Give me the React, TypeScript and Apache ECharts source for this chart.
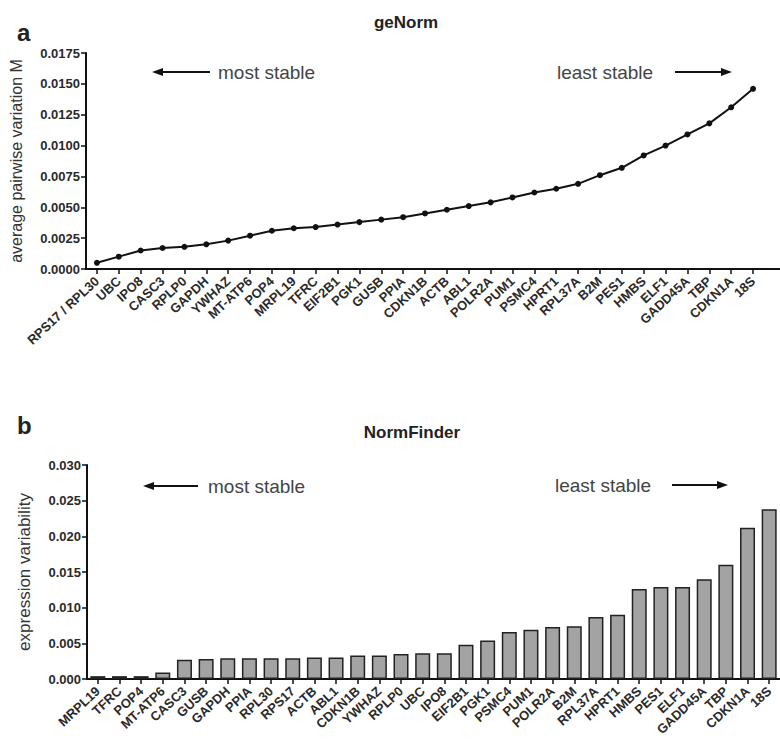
import React, { useEffect, useRef } from "react";
import * as echarts from "echarts";

const genormGenes = ["RPS17 / RPL30", "UBC", "IPO8", "CASC3", "RPLP0", "GAPDH", "YWHAZ", "MT-ATP6", "POP4", "MRPL19", "TFRC", "EIF2B1", "PGK1", "GUSB", "PPIA", "CDKN1B", "ACTB", "ABL1", "POLR2A", "PUM1", "PSMC4", "HPRT1", "RPL37A", "B2M", "PES1", "HMBS", "ELF1", "GADD45A", "TBP", "CDKN1A", "18S"];
const genormM = [0.0005, 0.0010, 0.0015, 0.0017, 0.0018, 0.0020, 0.0023, 0.0027, 0.0031, 0.0033, 0.0034, 0.0036, 0.0038, 0.0040, 0.0042, 0.0045, 0.0048, 0.0051, 0.0054, 0.0058, 0.0062, 0.0065, 0.0069, 0.0076, 0.0082, 0.0092, 0.0100, 0.0109, 0.0118, 0.0131, 0.0146];

const nfGenes = ["MRPL19", "TFRC", "POP4", "MT-ATP6", "CASC3", "GUSB", "GAPDH", "PPIA", "RPL30", "RPS17", "ACTB", "ABL1", "CDKN1B", "YWHAZ", "RPLP0", "UBC", "IPO8", "EIF2B1", "PGK1", "PSMC4", "PUM1", "POLR2A", "B2M", "RPL37A", "HPRT1", "HMBS", "PES1", "ELF1", "GADD45A", "TBP", "CDKN1A", "18S"];
const nfVariability = [0.0004, 0.0004, 0.0004, 0.0009, 0.0027, 0.0028, 0.0029, 0.0029, 0.0029, 0.0029, 0.0030, 0.0030, 0.0033, 0.0033, 0.0035, 0.0036, 0.0036, 0.0048, 0.0054, 0.0066, 0.0069, 0.0073, 0.0074, 0.0087, 0.0090, 0.0126, 0.0129, 0.0129, 0.0140, 0.0160, 0.0212, 0.0238];

const FONT = "'Liberation Sans', Arial, sans-serif";

function arrow(x1: number, x2: number, y: number, headLeft: boolean) {
  const head = 11;
  const hh = 4;
  const lineStart = headLeft ? x1 + head - 1 : x1;
  const lineEnd = headLeft ? x2 : x2 - head + 1;
  return [
    { type: "line", shape: { x1: lineStart, y1: y, x2: lineEnd, y2: y }, style: { stroke: "#111", lineWidth: 2 } },
    {
      type: "polygon",
      shape: {
        points: headLeft
          ? [[x1, y], [x1 + head, y - hh], [x1 + head, y + hh]]
          : [[x2, y], [x2 - head, y - hh], [x2 - head, y + hh]],
      },
      style: { fill: "#111" },
    },
  ];
}

function txt(x: number, y: number, text: string, size: number, bold: boolean, align = "left", color = "#222") {
  return {
    type: "text",
    x,
    y,
    style: { text, fontSize: size, fontWeight: bold ? "bold" : "normal", fontFamily: FONT, fill: color, align, verticalAlign: "middle" },
  };
}

export default function App() {
  const ref = useRef<HTMLDivElement>(null);
  useEffect(() => {
    if (!ref.current) return;
    const chart = echarts.init(ref.current, null, { renderer: "svg" });
    const axisLabelY = { fontSize: 13, fontWeight: "bold", color: "#2a2a2a", fontFamily: FONT, margin: 6 };
    const axisLabelX = { fontSize: 13, fontWeight: "bold", color: "#2a2a2a", fontFamily: FONT, rotate: 43, interval: 0, margin: 10 };
    const axisLine = { show: true, lineStyle: { color: "#111", width: 2 } };
    const axisTick = { show: true, length: 5, lineStyle: { color: "#111", width: 1.5 } };
    chart.setOption({
      animation: false,
      backgroundColor: "#fff",
      grid: [
        { left: 86, top: 53, width: 678, height: 216 },
        { left: 87, top: 465, width: 693, height: 214 },
      ],
      xAxis: [
        {
          type: "category", gridIndex: 0, data: genormGenes, boundaryGap: true,
          axisLine, axisTick: { ...axisTick, alignWithLabel: true }, axisLabel: axisLabelX, splitLine: { show: false },
        },
        {
          type: "category", gridIndex: 1, data: nfGenes, boundaryGap: true,
          axisLine, axisTick: { ...axisTick, alignWithLabel: true }, axisLabel: axisLabelX, splitLine: { show: false },
        },
      ],
      yAxis: [
        {
          type: "value", gridIndex: 0, min: 0, max: 0.0175, interval: 0.0025,
          axisLine, axisTick, splitLine: { show: false },
          axisLabel: { ...axisLabelY, formatter: (v: number) => v.toFixed(4) },
          name: "average pairwise variation M", nameLocation: "middle", nameGap: 62,
          nameTextStyle: { fontSize: 16, color: "#333", fontFamily: FONT },
        },
        {
          type: "value", gridIndex: 1, min: 0, max: 0.03, interval: 0.005,
          axisLine, axisTick, splitLine: { show: false },
          axisLabel: { ...axisLabelY, formatter: (v: number) => v.toFixed(3) },
          name: "expression variability", nameLocation: "middle", nameGap: 54,
          nameTextStyle: { fontSize: 17, color: "#333", fontFamily: FONT },
        },
      ],
      series: [
        {
          type: "line", xAxisIndex: 0, yAxisIndex: 0, data: genormM,
          symbol: "circle", symbolSize: 6,
          lineStyle: { color: "#111", width: 2 }, itemStyle: { color: "#111" },
        },
        {
          type: "bar", xAxisIndex: 1, yAxisIndex: 1, data: nfVariability, barWidth: 15,
          itemStyle: { color: "#a3a3a3", borderColor: "#222", borderWidth: 1.5 },
        },
      ],
      graphic: [
        { type: "line", shape: { x1: 763, y1: 269, x2: 780, y2: 269 }, style: { stroke: "#111", lineWidth: 2 } },
        txt(17, 32, "a", 24, true),
        txt(17, 425, "b", 24, true),
        txt(406, 22, "geNorm", 17, true, "center"),
        txt(412, 432, "NormFinder", 17, true, "center"),
        ...arrow(152, 210, 72, true),
        txt(218, 72, "most stable", 19, false, "left", "#444"),
        txt(557, 72, "least stable", 19, false, "left", "#444"),
        ...arrow(675, 732, 72, false),
        ...arrow(143, 198, 486, true),
        txt(208, 486, "most stable", 19, false, "left", "#444"),
        txt(555, 485, "least stable", 19, false, "left", "#444"),
        ...arrow(672, 728, 485, false),
      ],
    });
    return () => chart.dispose();
  }, []);
  return <div ref={ref} style={{ position: "fixed", left: 0, top: 0, width: 780, height: 748, background: "#fff" }} />;
}
